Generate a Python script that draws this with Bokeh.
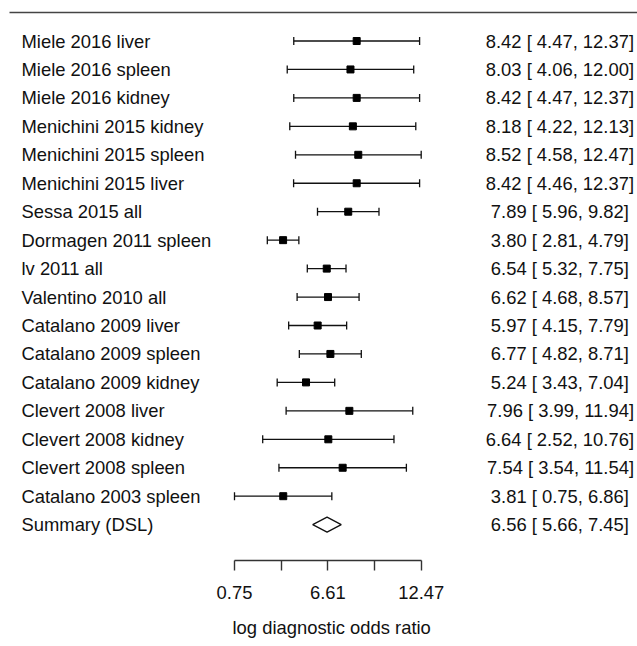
from bokeh.plotting import figure
from bokeh.models import Range1d, LinearAxis, FixedTicker, ColumnDataSource, Title
from bokeh.core.properties import value
from bokeh.embed import file_html
from bokeh.resources import INLINE

studies = ["Miele 2016 liver", "Miele 2016 spleen", "Miele 2016 kidney",
           "Menichini 2015 kidney", "Menichini 2015 spleen", "Menichini 2015 liver",
           "Sessa 2015 all", "Dormagen 2011 spleen", "lv 2011 all", "Valentino 2010 all",
           "Catalano 2009 liver", "Catalano 2009 spleen", "Catalano 2009 kidney",
           "Clevert 2008 liver", "Clevert 2008 kidney", "Clevert 2008 spleen",
           "Catalano 2003 spleen"]
est = [8.42, 8.03, 8.42, 8.18, 8.52, 8.42, 7.89, 3.80, 6.54, 6.62, 5.97, 6.77, 5.24,
       7.96, 6.64, 7.54, 3.81]
lo = [4.47, 4.06, 4.47, 4.22, 4.58, 4.46, 5.96, 2.81, 5.32, 4.68, 4.15, 4.82, 3.43,
      3.99, 2.52, 3.54, 0.75]
hi = [12.37, 12.00, 12.37, 12.13, 12.47, 12.37, 9.82, 4.79, 7.75, 8.57, 7.79, 8.71, 7.04,
      11.94, 10.76, 11.54, 6.86]
summary_label = "Summary (DSL)"
summary_est = 6.56
summary_lo = 5.66
summary_hi = 7.45
tick_values = [0.75, 3.68, 6.61, 9.54, 12.47]
tick_labels = ["0.75", "", "6.61", "", "12.47"]
axis_title = "log diagnostic odds ratio"

FONT = "Liberation Sans"
FS = "18.4px"
W, H = 637, 646
FRAME_H = 560
# pixel geometry (canvas coordinates)
PX0, PX1 = 234.0, 420.7      # pixel of first / last tick value
ROW0, ROWSTEP = 40.5, 28.45   # pixel y of first row, row spacing
scale = (PX1 - PX0) / (tick_values[-1] - tick_values[0])

def xv(px):
    return tick_values[0] + (px - PX0) / scale

def yv(py):
    return (py - ROW0) / ROWSTEP

p = figure(width=W, height=H, frame_height=FRAME_H, output_backend="svg",
           toolbar_location=None, min_border=0,
           x_range=Range1d(xv(0), xv(W)), y_range=Range1d(yv(FRAME_H), yv(0)),
           x_axis_type=None, y_axis_type=None)
p.outline_line_color = None
p.xgrid.visible = False
p.ygrid.visible = False
p.background_fill_color = "white"
p.border_fill_color = "white"

n = len(studies)
rows = list(range(n))
cap = 4.0 / ROWSTEP
src = ColumnDataSource(dict(y=rows, est=est, lo=lo, hi=hi,
                            ytop=[r - cap for r in rows], ybot=[r + cap for r in rows]))

# top rule
p.segment(x0=xv(9), x1=xv(W), y0=yv(12), y1=yv(12), line_color="#444444", line_width=1.4)

p.segment(x0="lo", x1="hi", y0="y", y1="y", source=src, line_color="#111111", line_width=1.3)
p.segment(x0="lo", x1="lo", y0="ytop", y1="ybot", source=src, line_color="#111111", line_width=1.3)
p.segment(x0="hi", x1="hi", y0="ytop", y1="ybot", source=src, line_color="#111111", line_width=1.3)
p.scatter(x="est", y="y", source=src, marker="square", size=7, color="black")

# summary diamond
sy = n
dh = 7.5 / ROWSTEP
p.patch(x=[summary_lo, summary_est, summary_hi, summary_est],
        y=[sy, sy - dh, sy, sy + dh], fill_color="white", line_color="#111111", line_width=1.3)

names = studies + [summary_label]
labs = [f"{e:.2f} [{l:5.2f}, {h:5.2f}]" for e, l, h in zip(est + [summary_est], lo + [summary_lo], hi + [summary_hi])]
ys = rows + [sy]
p.text(x=[xv(21)] * len(names), y=ys, text=names, text_font=value(FONT),
       text_font_size=FS, text_baseline="middle", text_align="left", text_color="#111111")
p.text(x=[xv(633.5)] * len(labs), y=ys, text=labs, text_font=value(FONT),
       text_font_size=FS, text_baseline="middle", text_align="right", text_color="#111111")

ax = LinearAxis(ticker=FixedTicker(ticks=tick_values), bounds=(tick_values[0], tick_values[-1]),
                major_label_overrides={v: l for v, l in zip(tick_values, tick_labels)},
                major_tick_in=0, major_tick_out=10, minor_tick_line_color=None,
                axis_line_color="#333333", major_tick_line_color="#333333",
                axis_line_width=1.4, major_tick_line_width=1.4,
                major_label_text_font=FONT, major_label_text_font_size=FS,
                major_label_text_color="#111111", major_label_standoff=15)
p.add_layout(ax, "below")
p.add_layout(Title(text=axis_title, align="left", offset=232, text_font=FONT,
                   text_font_size=FS, text_font_style="normal", text_color="#111111",
                   standoff=27), "below")

open("out.html", "w").write(file_html(p, INLINE))
